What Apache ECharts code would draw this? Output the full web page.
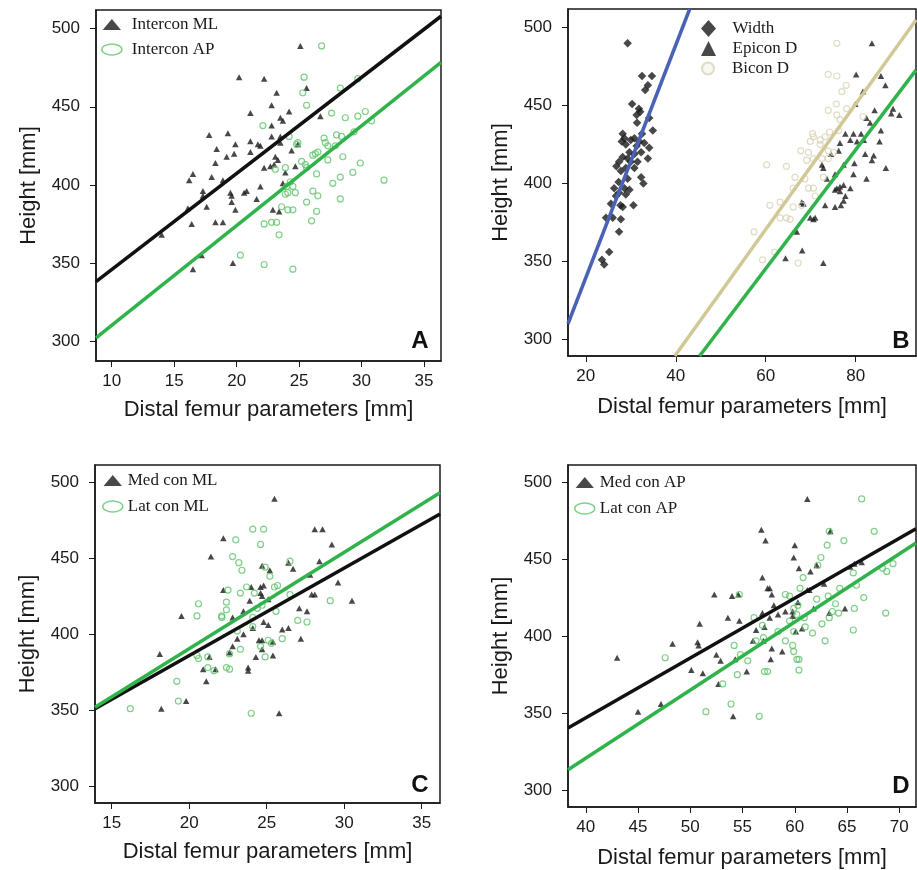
<!DOCTYPE html>
<html>
<head>
<meta charset="utf-8">
<title>Distal femur parameters vs height</title>
<script src="https://cdn.jsdelivr.net/npm/echarts@6/dist/echarts.min.js"></script>
</head>
<body style="margin:0;background:#fff">
<div id="main" style="width:917px;height:870px"></div>
<script>
// A: intercondylar
var interconML = [[25.1,489],[20.2,469],[22.2,468],[25.6,462],[23.2,459],[22.8,451],[21.1,446],[24.2,447],[23.5,443],[23.7,441],[26.7,444],[22.8,438],[17.8,432],[19.3,433],[22.8,431],[23.5,431],[19.9,426],[21.1,428],[21.7,426],[21.9,425],[23.5,427],[24.9,426],[18.4,423],[19.8,420],[19.2,418],[21.1,421],[24.4,422],[23.1,418],[23.3,416],[18.3,414],[23.0,413],[22.2,411],[22.7,412],[24.7,412],[16.5,407],[16.2,403],[18.0,405],[18.9,403],[23.9,408],[23.7,401],[17.3,396],[17.3,393],[19.5,395],[19.6,393],[20.6,395],[20.8,396],[21.9,399],[21.6,391],[19.6,389],[17.6,386],[16.1,385],[19.9,384],[22.9,384],[23.4,383],[16.4,375],[18.3,376],[18.9,376],[14.0,368],[17.2,355],[19.7,350],[16.5,346]];
var interconAP = [[26.8,489],[25.4,469],[28.3,462],[25.3,459],[25.6,451],[27.6,446],[29.7,468],[28.7,443],[29.7,444],[30.3,447],[30.8,441],[22.1,438],[24.2,431],[24.8,426],[24.9,427],[27.0,430],[28.0,432],[28.4,431],[27.1,427],[27.3,425],[27.9,425],[26.5,421],[26.3,420],[26.1,419],[29.4,434],[28.5,418],[27.3,416],[25.2,415],[25.5,413],[25.6,411],[29.9,414],[23.1,410],[23.9,411],[26.4,407],[28.3,405],[29.3,408],[27.7,401],[31.8,403],[24.3,402],[24.0,399],[24.5,399],[24.1,395],[23.9,394],[24.7,395],[26.1,396],[26.5,393],[28.3,391],[25.6,389],[23.6,386],[24.1,384],[24.5,384],[26.4,383],[26.0,377],[22.2,375],[22.8,376],[23.2,376],[23.4,368],[20.3,355],[22.2,349],[24.5,346]];
var fitInterconML = [[8.74,338],[36.36,508]];
var fitInterconAP = [[8.74,302],[36.36,478.5]];

// B: width, epicondylar, bicondylar
var widthD = [[29.3,490],[32.5,469],[34.7,469],[33.8,463],[33.2,460],[30.3,451],[31.8,448],[32.1,446],[31.3,444],[34.1,442],[31.4,439],[28.2,432],[32.5,432],[34.9,434],[28.6,429],[30.0,428],[30.8,429],[28.0,427],[31.9,427],[33.0,426],[28.9,425],[31.3,424],[34.1,423],[29.7,420],[32.3,420],[30.8,419],[28.2,417],[29.3,416],[33.8,416],[27.4,414],[30.0,414],[31.5,414],[26.8,411],[28.9,410],[30.8,410],[27.8,408],[32.3,404],[29.3,403],[27.3,401],[32.8,400],[26.3,397],[28.6,397],[29.7,396],[27.4,394],[28.9,393],[26.7,392],[25.6,387],[27.7,386],[28.2,385],[30.6,386],[24.5,378],[26.0,378],[27.8,377],[27.4,369],[25.2,356],[23.6,351],[24.1,348]];
var epiconD = [[83.6,490],[80.1,470],[85.6,469],[86.6,463],[81.6,459],[79.9,451],[84.2,447],[88.3,448],[89.7,444],[87.9,445],[82.4,442],[83.2,439],[77.7,432],[79.5,432],[81.2,432],[85.6,434],[78.8,428],[80.3,427],[81.8,428],[85.3,427],[76.5,426],[76.2,421],[74.5,419],[82.1,419],[84.0,418],[79.7,413],[83.6,415],[72.5,412],[72.8,410],[77.3,412],[86.7,410],[75.4,406],[82.4,403],[79.5,406],[73.6,403],[75.8,397],[76.5,398],[77.3,399],[78.8,397],[75.4,396],[76.5,395],[77.7,392],[77.3,389],[68.0,388],[68.4,387],[73.2,386],[75.4,385],[76.7,386],[69.9,378],[71.0,378],[70.6,377],[66.9,369],[68.1,357],[64.4,352],[72.8,349]];
var biconD = [[75.8,490],[73.9,470],[75.8,469],[77.9,463],[76.9,459],[75.7,451],[73.9,447],[75.8,444],[78.0,448],[76.5,441],[81.6,443],[70.4,432],[70.6,430],[74.2,433],[76.2,434],[69.9,427],[72.1,425],[67.8,421],[69.5,420],[73.9,421],[75.1,420],[69.1,415],[70.6,416],[72.5,416],[73.9,416],[60.2,412],[64.6,411],[66.5,404],[68.7,403],[72.8,404],[66.1,397],[69.5,397],[70.6,397],[71.0,392],[60.9,386],[63.2,388],[66.1,385],[68.0,386],[63.2,378],[64.6,378],[65.4,377],[57.4,369],[62.0,356],[59.3,351],[67.2,349],[72.1,428],[73.2,430]];
var fitWidth = [[16.05,310],[43.1,512]];
var fitBicon = [[39.8,289.3],[93.4,505]];
var fitEpicon = [[45.3,289.3],[93.4,472.8]];

// C: condylar ML
var medConML = [[25.5,489],[28.1,469],[28.6,469],[22.2,463],[29.2,459],[21.4,451],[26.4,447],[26.7,443],[28.4,448],[24.7,445],[25.2,442],[27.8,439],[29.6,434],[22.2,429],[24.0,431],[24.6,431],[24.8,432],[24.6,427],[24.7,425],[27.9,426],[28.1,426],[30.5,422],[23.9,422],[25.1,423],[19.5,412],[27.1,417],[27.6,415],[22.8,411],[23.5,415],[24.8,408],[25.1,406],[26.4,404],[26.0,403],[24.1,404],[23.5,400],[23.1,397],[24.5,396],[24.7,396],[27.2,397],[25.4,395],[22.8,392],[24.7,390],[22.6,388],[21.3,385],[24.3,385],[25.4,386],[20.9,377],[21.7,377],[23.8,378],[23.8,376],[21.1,369],[18.1,387],[19.8,356],[18.2,351],[25.8,348]];
var latConML = [[24.1,469],[24.8,469],[23.0,462],[24.6,459],[22.8,451],[23.2,447],[23.4,442],[26.5,448],[24.9,444],[25.2,438],[25.7,432],[25.5,431],[23.7,431],[22.5,429],[23.3,427],[24.2,427],[20.6,420],[22.4,421],[20.5,412],[22.1,412],[22.4,416],[24.7,419],[24.4,417],[25.6,415],[24.1,411],[24.1,405],[27.0,409],[27.6,408],[29.1,422],[26.0,397],[25.1,396],[25.3,394],[22.6,387],[23.3,390],[24.6,392],[24.9,385],[21.2,385],[20.5,386],[20.6,384],[22.4,378],[22.6,377],[21.2,378],[21.6,376],[19.2,369],[19.3,356],[16.2,351],[24.0,348],[26.5,426],[23.1,402],[22.1,411]];
var fitMedConML = [[13.92,351],[36.18,479]];
var fitLatConML = [[13.92,352],[36.18,493]];

// D: condylar AP
var medConAP = [[61.2,489],[63.4,468],[56.8,469],[57.2,462],[60.0,459],[59.9,451],[60.4,444],[62.1,446],[61.5,442],[56.9,438],[57.4,431],[57.6,431],[61.2,430],[61.4,430],[62.8,434],[66.4,448],[65.3,445],[65.7,447],[57.8,427],[52.3,427],[54.0,426],[54.6,427],[60.3,422],[58.0,420],[56.9,415],[57.6,412],[58.4,414],[59.1,416],[59.8,416],[59.8,413],[57.1,406],[53.6,412],[54.7,410],[50.9,408],[56.3,404],[60.7,405],[60.1,403],[61.8,418],[63.3,415],[64.8,418],[48.3,395],[50.7,396],[50.8,394],[56.0,397],[57.0,397],[57.8,392],[58.8,390],[52.5,388],[52.9,384],[54.3,385],[57.7,385],[43.0,386],[50.1,378],[51.2,376],[55.4,377],[52.7,369],[47.2,356],[45.0,351],[54.1,348]];
var latConAP = [[66.4,489],[63.3,468],[67.6,468],[64.7,462],[63.1,459],[62.5,451],[62.2,446],[60.8,438],[60.5,431],[65.6,441],[68.4,444],[68.8,442],[69.4,447],[54.7,427],[59.1,427],[59.5,426],[64.3,431],[65.9,433],[63.2,426],[62.1,424],[63.9,421],[60.3,420],[59.9,418],[60.2,414],[63.6,416],[64.2,415],[65.7,418],[66.6,425],[68.7,415],[56.1,412],[56.9,407],[59.5,410],[60.9,412],[62.6,408],[63.3,412],[58.4,403],[59.9,403],[61.0,406],[61.7,402],[65.6,404],[57.0,399],[56.3,397],[59.1,397],[59.8,394],[54.2,394],[62.9,397],[59.9,390],[54.8,388],[55.5,384],[47.6,386],[60.2,385],[60.4,385],[54.5,375],[57.1,377],[57.4,377],[60.4,378],[53.1,369],[53.9,356],[51.5,351],[56.6,348]];
var fitMedConAP = [[38.3,340.4],[71.6,469.7]];
var fitLatConAP = [[38.3,313.4],[71.6,460.4]];

var heightTicks = [300, 350, 400, 450, 500];
var xTicksA = [10, 15, 20, 25, 30, 35];
var xTicksB = [20, 40, 60, 80];
var xTicksC = [15, 20, 25, 30, 35];
var xTicksD = [40, 45, 50, 55, 60, 65, 70];

var INK = '#1a1a1a';
var GREEN_LINE = '#2fb34a';
var GREEN_PT = '#5fc46c';
var KHAKI_LINE = '#d2c895';
var KHAKI_PT = '#d9d3b6';
var BLUE = '#4a62b6';
var triIcon = 'path://M0,9 L7.5,0 L15,9 Z';
var ellIcon = 'path://M0,6 A11,6 0 1,1 22,6 A11,6 0 1,1 0,6 Z';
var diaIcon = 'path://M7.5,0 L15,8.5 L7.5,17 L0,8.5 Z';
var bigTriIcon = 'path://M0,15 L7.5,0 L15,15 Z';
var ringIcon = 'path://M0,6 A6,6 0 1,1 12,6 A6,6 0 1,1 0,6 Z';

function xAxisFor(i, min, max, ticks, gap) {
    return {
        type: 'value', gridIndex: i, min: min, max: max,
        name: 'Distal femur parameters [mm]', nameLocation: 'middle', nameGap: gap,
        nameTextStyle: {fontSize: 22, fontFamily: 'Liberation Sans', color: INK},
        axisLine: {onZero: false, lineStyle: {color: INK, width: 1.5}},
        axisTick: {customValues: ticks, length: 6, lineStyle: {color: INK, width: 1}},
        axisLabel: {customValues: ticks, margin: 12, fontSize: 17, fontFamily: 'Liberation Sans', color: INK},
        splitLine: {show: false}
    };
}
function yAxisFor(i, min, max) {
    return {
        type: 'value', gridIndex: i, min: min, max: max,
        name: 'Height [mm]', nameLocation: 'middle', nameGap: 56, nameRotate: 90,
        nameTextStyle: {fontSize: 22, fontFamily: 'Liberation Sans', color: INK},
        axisLine: {onZero: false, lineStyle: {color: INK, width: 1.5}},
        axisTick: {customValues: heightTicks, length: 6, lineStyle: {color: INK, width: 1}},
        axisLabel: {customValues: heightTicks, margin: 16, fontSize: 17, fontFamily: 'Liberation Sans', color: INK},
        splitLine: {show: false}
    };
}
function triangles(name, i, data) {
    return {name: name, type: 'scatter', xAxisIndex: i, yAxisIndex: i, data: data,
        symbol: 'triangle', symbolSize: [6.5, 6], itemStyle: {color: INK}};
}
function rings(name, i, data, color) {
    return {name: name, type: 'scatter', xAxisIndex: i, yAxisIndex: i, data: data,
        symbol: 'circle', symbolSize: 6,
        itemStyle: {color: 'rgba(0,0,0,0)', borderColor: color, borderWidth: 1.2}};
}
function fit(i, data, color) {
    return {type: 'line', xAxisIndex: i, yAxisIndex: i, data: data, showSymbol: false,
        silent: true, z: 3, lineStyle: {color: color, width: 3.5}};
}
var legendText = {fontFamily: 'Liberation Serif', fontSize: 17, color: INK};
function legendFor(left, top, width, gap, names) {
    return {left: left, top: top, orient: 'vertical', itemWidth: width, itemHeight: 11, itemGap: gap,
        selectedMode: false, padding: 0, symbolKeepAspect: true, textStyle: legendText,
        data: [
            {name: names[0], icon: triIcon, itemStyle: {color: INK}},
            {name: names[1], icon: ellIcon, itemStyle: {color: 'rgba(0,0,0,0)', borderColor: GREEN_PT, borderWidth: 1.5}}
        ]};
}
function legendOne(top, h, item) {
    return {left: 701, top: top, itemWidth: 38, itemHeight: h, selectedMode: false, padding: 0,
        symbolKeepAspect: true, textStyle: legendText, data: [item]};
}
function letter(txt, x, y) {
    return {type: 'text', x: x, y: y, style: {text: txt, textAlign: 'center', textVerticalAlign: 'middle',
        font: 'bold 24px "Liberation Sans"', fill: '#111'}};
}

var chart = echarts.init(document.getElementById('main'), null, {renderer: 'canvas'});
chart.setOption({
    animation: false,
    backgroundColor: '#fff',
    grid: [
        {left: 96, top: 10, width: 345, height: 351, show: true, borderColor: INK, borderWidth: 1.5},
        {left: 568, top: 9, width: 348, height: 347, show: true, borderColor: INK, borderWidth: 1.5},
        {left: 95, top: 465, width: 345, height: 338, show: true, borderColor: INK, borderWidth: 1.5},
        {left: 568, top: 465, width: 348, height: 342, show: true, borderColor: INK, borderWidth: 1.5}
    ],
    xAxis: [
        xAxisFor(0, 8.74, 36.36, xTicksA, 38),
        xAxisFor(1, 16.05, 93.4, xTicksB, 40),
        xAxisFor(2, 13.92, 36.18, xTicksC, 38),
        xAxisFor(3, 38.3, 71.6, xTicksD, 40)
    ],
    yAxis: [
        yAxisFor(0, 287.2, 512),
        yAxisFor(1, 289.3, 512),
        yAxisFor(2, 289, 511.2),
        yAxisFor(3, 289.2, 511)
    ],
    legend: [
        legendFor(101, 16, 30, 8, ['Intercon ML', 'Intercon AP']),
        legendOne(20, 17, {name: 'Width', icon: diaIcon, itemStyle: {color: INK}}),
        legendOne(40, 15, {name: 'Epicon D', icon: bigTriIcon, itemStyle: {color: INK}}),
        legendOne(60, 12, {name: 'Bicon D', icon: ringIcon,
            itemStyle: {color: 'rgba(240,238,228,0.6)', borderColor: KHAKI_PT, borderWidth: 2}}),
        legendFor(102, 472, 20, 9, ['Med con ML', 'Lat con ML']),
        legendFor(574, 474, 20, 9, ['Med con AP', 'Lat con AP'])
    ],
    graphic: [letter('A', 420, 341), letter('B', 901, 341), letter('C', 420, 785), letter('D', 901, 786)],
    series: [
        triangles('Intercon ML', 0, interconML),
        rings('Intercon AP', 0, interconAP, GREEN_PT),
        fit(0, fitInterconML, '#111'),
        fit(0, fitInterconAP, GREEN_LINE),

        {name: 'Width', type: 'scatter', xAxisIndex: 1, yAxisIndex: 1, data: widthD,
            symbol: 'diamond', symbolSize: 8.5, itemStyle: {color: INK}},
        triangles('Epicon D', 1, epiconD),
        rings('Bicon D', 1, biconD, KHAKI_PT),
        fit(1, fitWidth, BLUE),
        fit(1, fitBicon, KHAKI_LINE),
        fit(1, fitEpicon, GREEN_LINE),

        triangles('Med con ML', 2, medConML),
        rings('Lat con ML', 2, latConML, GREEN_PT),
        fit(2, fitMedConML, '#111'),
        fit(2, fitLatConML, GREEN_LINE),

        triangles('Med con AP', 3, medConAP),
        rings('Lat con AP', 3, latConAP, GREEN_PT),
        fit(3, fitMedConAP, '#111'),
        fit(3, fitLatConAP, GREEN_LINE)
    ]
});
</script>
</body>
</html>
